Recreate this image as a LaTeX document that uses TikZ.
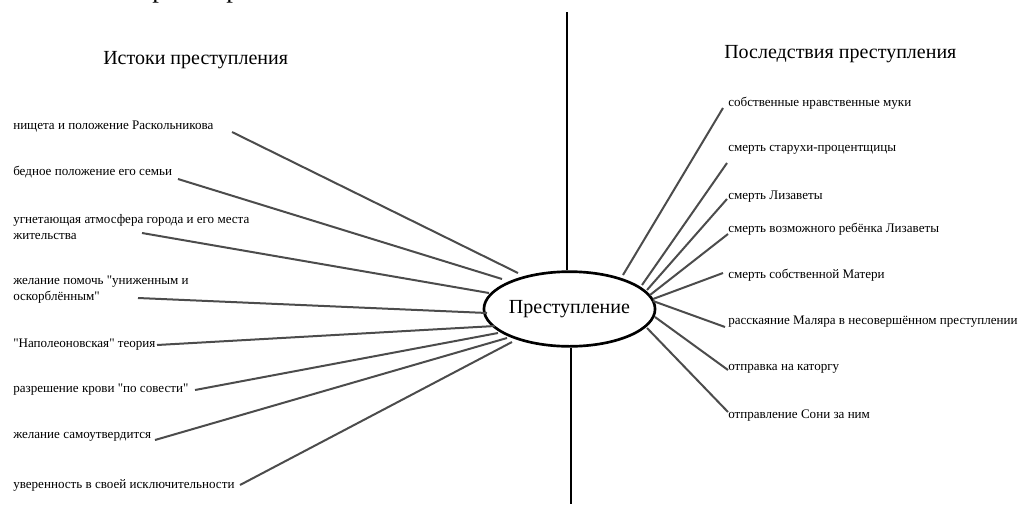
\documentclass[tikz,border=0pt]{standalone}
\usepackage{fontspec}
\setmainfont{Liberation Serif}[Ligatures=TeXOff]
\usetikzlibrary{shapes.geometric}
\begin{document}
\begin{tikzpicture}[x=0.75pt,y=-0.75pt,
  item/.style={anchor=west, inner sep=0pt, align=left, font=\fontsize{9.8}{12}\selectfont},
  head/.style={anchor=west, inner sep=0pt, font=\fontsize{15}{18}\selectfont},
  link/.style={draw=black!70, line width=1.5pt},
  axis/.style={draw=black, line width=1.6pt},
  centre/.style={draw=black, ellipse, line width=2pt, minimum width=114pt, minimum height=56pt, inner sep=0pt, font=\fontsize{15}{18}\selectfont},
  frag/.style={anchor=base, inner sep=0pt, font=\fontsize{20}{24}\selectfont}]
\useasboundingbox (0,0) rectangle (1021,504);
% cut-off fragments at the top edge
\node[frag] (f1) at (159,-3) {р};
\node[frag] (f2) at (233,-3) {р};
% centre
\node[centre] (c) at (569.5,309) {Преступление};
\coordinate (top) at (567,12);
\coordinate (bot) at (571,504);
\draw[axis] (top) -- (top |- c.north);
\draw[axis] (bot |- c.south) -- (bot);
% headings
\node[head] (hl) at (103,60) {Истоки преступления};
\node[head] (hr) at (724,54) {Последствия преступления};
% left items
\node[item] (l1) at (13,127) {нищета и положение Раскольникова};
\node[item] (l2) at (13,172) {бедное положение его семьи};
\node[item] (l3) at (13,227) {угнетающая атмосфера города и его места\\жительства};
\node[item] (l4) at (13,290) {желание помочь "униженным и\\оскорблённым"};
\node[item] (l5) at (13,345) {"Наполеоновская" теория};
\node[item] (l6) at (13,390) {разрешение крови "по совести"};
\node[item] (l7) at (13,437) {желание самоутвердится};
\node[item] (l8) at (13,485) {уверенность в своей исключительности};
% right items
\node[item] (r1) at (728,103) {собственные нравственные муки};
\node[item] (r2) at (728,150) {смерть старухи-процентщицы};
\node[item] (r3) at (728,197) {смерть Лизаветы};
\node[item] (r4) at (728,229) {смерть возможного ребёнка Лизаветы};
\node[item] (r5) at (728,275) {смерть собственной Матери};
\node[item] (r6) at (728,322) {расскаяние Маляра в несовершённом преступлении};
\node[item] (r7) at (728,369) {отправка на каторгу};
\node[item] (r8) at (728,416) {отправление Сони за ним};
% connector end points
\coordinate (a1) at (232,132); \coordinate (b1) at (518,273);
\coordinate (a2) at (178,179); \coordinate (b2) at (502,279);
\coordinate (a3) at (142,233); \coordinate (b3) at (489,293);
\coordinate (a4) at (138,298); \coordinate (b4) at (487,313);
\coordinate (a5) at (157,345); \coordinate (b5) at (495,326);
\coordinate (a6) at (195,390); \coordinate (b6) at (498,333);
\coordinate (a7) at (155,440); \coordinate (b7) at (507,338);
\coordinate (a8) at (240,485); \coordinate (b8) at (512,342);
\coordinate (p1) at (723,108); \coordinate (q1) at (623,275);
\coordinate (p2) at (727,163); \coordinate (q2) at (642,285);
\coordinate (p3) at (727,199); \coordinate (q3) at (647,290);
\coordinate (p4) at (728,234); \coordinate (q4) at (650,295);
\coordinate (p5) at (723,273); \coordinate (q5) at (653,299);
\coordinate (p6) at (725,327); \coordinate (q6) at (653,301);
\coordinate (p7) at (728,370); \coordinate (q7) at (655,317);
\coordinate (p8) at (728,412); \coordinate (q8) at (647,328);
\foreach \i in {1,...,8} {
  \draw[link] (a\i) -- (b\i);
  \draw[link] (p\i) -- (q\i);
}
\end{tikzpicture}
\end{document}
